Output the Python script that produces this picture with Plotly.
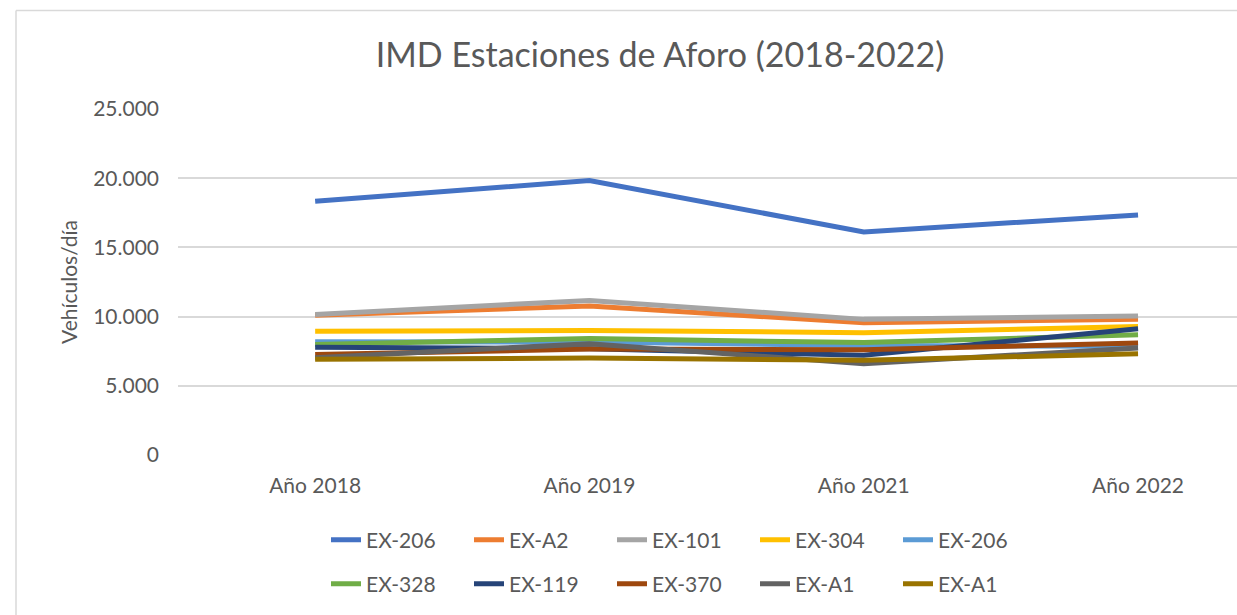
import plotly.graph_objects as go

categories = ["Año 2018", "Año 2019", "Año 2021", "Año 2022"]

series_names = ["EX-206", "EX-A2", "EX-101", "EX-304", "EX-206",
                "EX-328", "EX-119", "EX-370", "EX-A1", "EX-A1"]

ex206_a = [18330, 19830, 16120, 17350]
exa2 = [10100, 10760, 9560, 9800]
ex101 = [10160, 11170, 9800, 10040]
ex304 = [8950, 9000, 8840, 9280]
ex206_b = [8190, 8160, 7920, 7850]
ex328 = [7990, 8410, 8120, 8690]
ex119 = [7780, 7680, 7200, 9130]
ex370 = [7270, 7650, 7610, 8090]
exa1_a = [7030, 8040, 6600, 7730]
exa1_b = [6910, 7000, 6840, 7320]

values = [ex206_a, exa2, ex101, ex304, ex206_b, ex328, ex119, ex370, exa1_a, exa1_b]
colors = ["#4472C4", "#ED7D31", "#A5A5A5", "#FFC000", "#5B9BD5",
          "#70AD47", "#264478", "#9E480E", "#636363", "#997300"]

y_ticks = [0, 5000, 10000, 15000, 20000, 25000]

FONT = "Lato"
TXT = "#595959"

fig = go.Figure()
for i, (name, vals, col) in enumerate(zip(series_names, values, colors)):
    fig.add_trace(go.Scatter(
        x=list(range(len(categories))), y=vals, name=name, mode="lines",
        line=dict(color=col, width=5),
        legend="legend" if i < 5 else "legend2",
        hoverinfo="x+y+name",
    ))

W, H = 1237, 615
L, T, B = 178, 108.5, 615 - 454.7
pw = W - L
ph = H - T - B

legend_common = dict(
    orientation="h", xref="container", yref="container",
    xanchor="left", yanchor="middle",
    font=dict(family=FONT, size=21, color=TXT),
    entrywidth=98, bgcolor="rgba(0,0,0,0)", itemwidth=30,
)

fig.update_layout(
    width=W, height=H,
    margin=dict(l=L, r=0, t=T, b=B, pad=0),
    paper_bgcolor="white", plot_bgcolor="white",
    separators=",.",
    font=dict(family=FONT, color=TXT),
    title=dict(text="IMD Estaciones de Aforo (2018-2022)",
               x=660 / W, xref="container", xanchor="center",
               y=1 - 55 / H, yref="container", yanchor="middle",
               font=dict(family=FONT, size=34, color=TXT)),
    xaxis=dict(tickmode="array", tickvals=list(range(len(categories))),
               ticktext=categories, range=[-0.5, -0.5 + pw / 274.3],
               showgrid=False, zeroline=False, showline=False,
               tickfont=dict(family=FONT, size=21, color=TXT),
               ticklabelstandoff=16, fixedrange=True),
    yaxis=dict(range=[0, 25000], tickvals=y_ticks, tickformat=",d",
               showgrid=True, gridcolor="#D9D9D9", gridwidth=1.5,
               zeroline=False, showline=False,
               tickfont=dict(family=FONT, size=21, color=TXT),
               ticklabelstandoff=18, fixedrange=True),
    legend=dict(x=326 / W, y=1 - 540 / H, **legend_common),
    legend2=dict(x=326 / W, y=1 - 584 / H, **legend_common),
    showlegend=True,
)

fig.add_annotation(text="Vehículos/día", xref="paper", yref="paper",
                   x=(68 - L) / pw, y=0.5, textangle=-90, showarrow=False,
                   xanchor="center", yanchor="middle",
                   font=dict(family=FONT, size=21, color=TXT))

# chart-area border: only top and left edges fall inside the visible crop
bx = (16 - L) / pw
by = (454.7 - 10) / ph
fig.add_shape(type="line", xref="paper", yref="paper",
              x0=bx, x1=1.0, y0=by, y1=by,
              line=dict(color="#D9D9D9", width=1.5), layer="below")
fig.add_shape(type="line", xref="paper", yref="paper",
              x0=bx, x1=bx, y0=by, y1=-B / ph,
              line=dict(color="#D9D9D9", width=1.5), layer="below")

fig.write_html("out.html",
               config={"displayModeBar": False},
               post_script="document.body.style.margin='0';"
                           "document.body.style.overflow='hidden';")
